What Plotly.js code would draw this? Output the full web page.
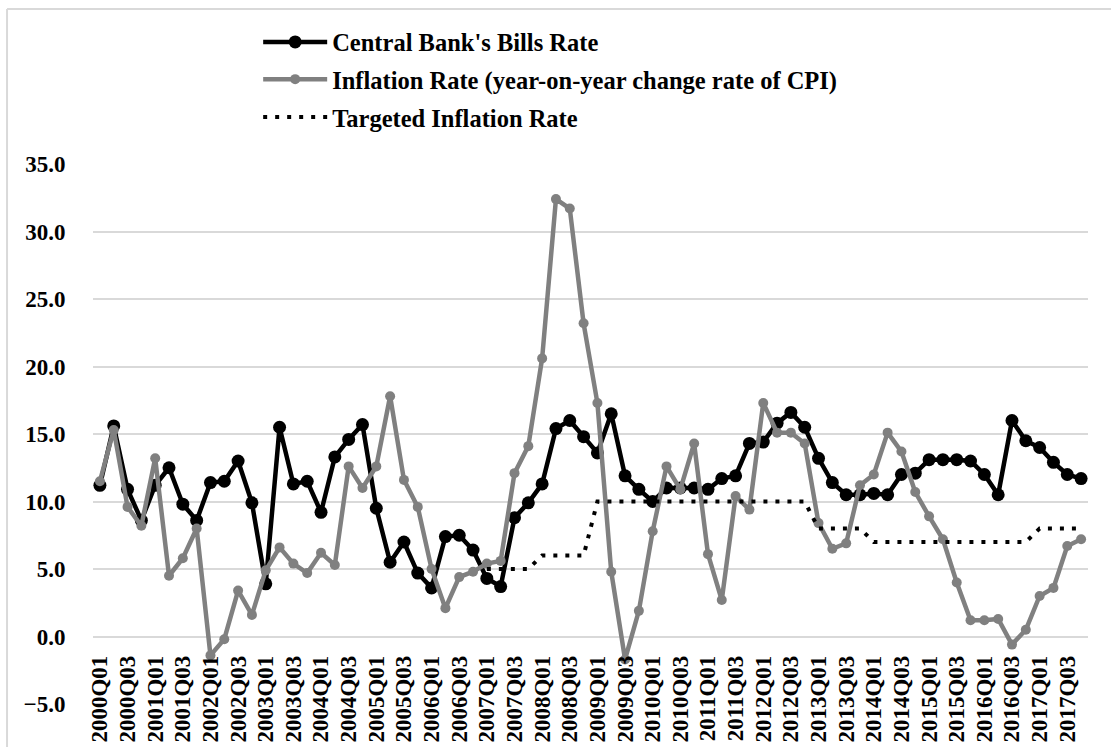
<!DOCTYPE html>
<html>
<head>
<meta charset="utf-8">
<script src="https://cdn.plot.ly/plotly-3.0.1.min.js"></script>
<style>
  html, body { margin: 0; padding: 0; background: #ffffff; }
  #chart { width: 1111px; height: 747px; }
</style>
</head>
<body>
<div id="chart"></div>
<script>
// Quarterly categories
const quarters = [
  "2000Q01","2000Q02","2000Q03","2000Q04",
  "2001Q01","2001Q02","2001Q03","2001Q04",
  "2002Q01","2002Q02","2002Q03","2002Q04",
  "2003Q01","2003Q02","2003Q03","2003Q04",
  "2004Q01","2004Q02","2004Q03","2004Q04",
  "2005Q01","2005Q02","2005Q03","2005Q04",
  "2006Q01","2006Q02","2006Q03","2006Q04",
  "2007Q01","2007Q02","2007Q03","2007Q04",
  "2008Q01","2008Q02","2008Q03","2008Q04",
  "2009Q01","2009Q02","2009Q03","2009Q04",
  "2010Q01","2010Q02","2010Q03","2010Q04",
  "2011Q01","2011Q02","2011Q03","2011Q04",
  "2012Q01","2012Q02","2012Q03","2012Q04",
  "2013Q01","2013Q02","2013Q03","2013Q04",
  "2014Q01","2014Q02","2014Q03","2014Q04",
  "2015Q01","2015Q02","2015Q03","2015Q04",
  "2016Q01","2016Q02","2016Q03","2016Q04",
  "2017Q01","2017Q02","2017Q03","2017Q04"
];

// Tick labels shown on the category axis
const tickLabels = [
  "2000Q01","2000Q03","2001Q01","2001Q03","2002Q01","2002Q03",
  "2003Q01","2003Q03","2004Q01","2004Q03","2005Q01","2005Q03",
  "2006Q01","2006Q03","2007Q01","2007Q03","2008Q01","2008Q03",
  "2009Q01","2009Q03","2010Q01","2010Q03","2011Q01","2011Q03",
  "2012Q01","2012Q03","2013Q01","2013Q03","2014Q01","2014Q03",
  "2015Q01","2015Q03","2016Q01","2016Q03","2017Q01","2017Q03"
];

// Central Bank's Bills Rate
const billsRate = [
  11.2, 15.6, 10.9, 8.6,
  11.2, 12.5, 9.8, 8.6,
  11.4, 11.5, 13.0, 9.9,
  3.9, 15.5, 11.3, 11.5,
  9.2, 13.3, 14.6, 15.7,
  9.5, 5.5, 7.0, 4.7,
  3.6, 7.4, 7.5, 6.4,
  4.3, 3.7, 8.8, 9.9,
  11.3, 15.4, 16.0, 14.8,
  13.6, 16.5, 11.9, 10.9,
  10.0, 11.0, 11.0, 11.0,
  10.9, 11.7, 11.9, 14.3,
  14.4, 15.8, 16.6, 15.5,
  13.2, 11.4, 10.5, 10.5,
  10.6, 10.5, 12.0, 12.1,
  13.1, 13.1, 13.1, 13.0,
  12.0, 10.5, 16.0, 14.5,
  14.0, 12.9, 12.0, 11.7
];

// Inflation Rate (year-on-year change rate of CPI)
const inflationRate = [
  11.5, 15.3, 9.6, 8.2,
  13.2, 4.5, 5.8, 8.0,
  -1.4, -0.2, 3.4, 1.6,
  4.9, 6.6, 5.4, 4.7,
  6.2, 5.3, 12.6, 11.0,
  12.6, 17.8, 11.6, 9.6,
  5.0, 2.1, 4.4, 4.8,
  5.4, 5.6, 12.1, 14.1,
  20.6, 32.4, 31.7, 23.2,
  17.3, 4.8, -1.7, 1.9,
  7.8, 12.6, 10.9, 14.3,
  6.1, 2.7, 10.4, 9.4,
  17.3, 15.1, 15.1, 14.3,
  8.4, 6.5, 6.9, 11.2,
  12.0, 15.1, 13.7, 10.7,
  8.9, 7.2, 4.0, 1.2,
  1.2, 1.3, -0.6, 0.5,
  3.0, 3.6, 6.7, 7.2
];

// Targeted Inflation Rate
const targetRate = [
  null, null, null, null,
  null, null, null, null,
  null, null, null, null,
  null, null, null, null,
  null, null, null, null,
  null, null, null, null,
  null, null, null, null,
  5, 5, 5, 5,
  6, 6, 6, 6,
  10, 10, 10, 10,
  10, 10, 10, 10,
  10, 10, 10, 10,
  10, 10, 10, 10,
  8, 8, 8, 8,
  7, 7, 7, 7,
  7, 7, 7, 7,
  7, 7, 7, 7,
  8, 8, 8, 8
];

const FONT = "Liberation Serif, Times New Roman, serif";

const traces = [
  {
    x: quarters, y: billsRate, type: "scatter", mode: "lines+markers",
    name: "Central Bank's Bills Rate",
    line: { color: "#000000", width: 4.5 },
    marker: { color: "#000000", size: 13 },
    legend: "legend"
  },
  {
    x: quarters, y: inflationRate, type: "scatter", mode: "lines+markers",
    name: "Inflation Rate (year-on-year change rate of CPI)",
    line: { color: "#808080", width: 4.5 },
    marker: { color: "#808080", size: 10 },
    legend: "legend2"
  },
  {
    x: quarters, y: targetRate, type: "scatter", mode: "lines",
    name: "Targeted Inflation Rate",
    line: { color: "#000000", width: 4, dash: "4px,8px" },
    connectgaps: false,
    legend: "legend3"
  }
];

const legendBase = {
  x: 0.166, xanchor: "left", yanchor: "middle",
  bgcolor: "rgba(0,0,0,0)", borderwidth: 0,
  itemwidth: 64,
  font: { family: FONT, size: 24.5, color: "#000000", weight: "bold" }
};

const layout = {
  width: 1111, height: 747,
  margin: { l: 93, r: 23, t: 164, b: 43, pad: 0 },
  paper_bgcolor: "#ffffff", plot_bgcolor: "#ffffff",
  showlegend: true,
  legend: Object.assign({}, legendBase, { y: 1.226 }),
  legend2: Object.assign({}, legendBase, { y: 1.157 }),
  legend3: Object.assign({}, legendBase, { y: 1.087 }),
  xaxis: {
    type: "category",
    range: [-0.5, 71.5],
    anchor: "free", position: 0.125,
    tickmode: "array", tickvals: tickLabels, ticktext: tickLabels,
    tickangle: -90,
    ticks: "outside", ticklen: 9, tickcolor: "rgba(0,0,0,0)",
    showgrid: false, showline: false, zeroline: false,
    automargin: false,
    tickfont: { family: FONT, size: 23, color: "#000000", weight: "bold" }
  },
  yaxis: {
    range: [-5, 35], dtick: 5, tick0: 0, tickformat: ".1f",
    showgrid: true, gridcolor: "#d9d9d9", gridwidth: 1.5,
    zeroline: true, zerolinecolor: "#d9d9d9", zerolinewidth: 1.5,
    showline: false,
    ticks: "outside", ticklen: 22, tickcolor: "rgba(0,0,0,0)",
    automargin: false,
    tickfont: { family: FONT, size: 23, color: "#000000", weight: "bold" }
  },
  shapes: [
    { type: "line", xref: "paper", yref: "paper",
      x0: -0.0864, x1: 1.0231, y0: 1.287, y1: 1.287,
      line: { color: "#d9d9d9", width: 2 } },
    { type: "line", xref: "paper", yref: "paper",
      x0: -0.0864, x1: -0.0864, y0: 1.287, y1: -0.08,
      line: { color: "#d9d9d9", width: 2 } }
  ]
};

Plotly.newPlot("chart", traces, layout, { displayModeBar: false, responsive: false });
</script>
</body>
</html>
